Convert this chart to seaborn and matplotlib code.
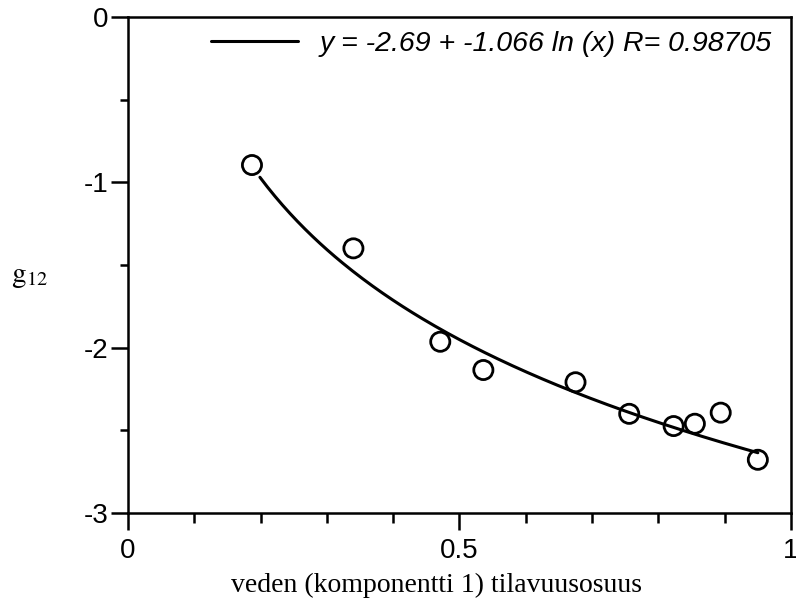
import numpy as np
import pandas as pd
import matplotlib
matplotlib.use("Agg")
import matplotlib.pyplot as plt
import seaborn as sns
from matplotlib.ticker import MultipleLocator, FormatStrFormatter

# measured points (volume fraction of water, g12)
x_vals = [0.187, 0.340, 0.471, 0.536, 0.675, 0.756, 0.823, 0.855, 0.894, 0.950]
g12_vals = [-0.895, -1.399, -1.964, -2.135, -2.209, -2.400, -2.474, -2.460, -2.393, -2.678]

# log fit given in the legend
fit_a = -2.69
fit_b = -1.066
fit_r = 0.98705
fit_range = [0.199, 0.950]

sns.set_theme(style="ticks")
plt.rcParams['font.family'] = ['Liberation Sans', 'DejaVu Sans']
plt.rcParams['mathtext.fontset'] = 'stix'

df = pd.DataFrame({'x': x_vals, 'g12': g12_vals})
xf = np.linspace(fit_range[0], fit_range[1], 200)
df_fit = pd.DataFrame({'x': xf, 'y': fit_a + fit_b * np.log(xf)})

fig = plt.figure(figsize=(7.96, 6.10), dpi=100)
ax = fig.add_axes([0.1608, 0.159, 0.8329, 0.813])

sns.lineplot(data=df_fit, x='x', y='y', ax=ax, color='black', linewidth=2.2,
             label=f"y = {fit_a} + {fit_b} ln (x) R= {fit_r}")
sns.scatterplot(data=df, x='x', y='g12', ax=ax, marker='o', s=190,
                facecolor='none', edgecolor='black', linewidth=2.0, zorder=3)

ax.set_xlim(0, 1)
ax.set_ylim(-3, 0)
ax.xaxis.set_major_locator(MultipleLocator(0.5))
ax.xaxis.set_minor_locator(MultipleLocator(0.1))
ax.yaxis.set_major_locator(MultipleLocator(1))
ax.yaxis.set_minor_locator(MultipleLocator(0.5))
ax.xaxis.set_major_formatter(FormatStrFormatter('%g'))
ax.yaxis.set_major_formatter(FormatStrFormatter('%g'))
ax.tick_params(which='major', length=12, width=1.8, labelsize=20, color='black', labelcolor='black')
ax.tick_params(axis='x', which='minor', length=7.5, width=1.8, color='black')
ax.tick_params(axis='y', which='minor', length=6, width=1.8, color='black')
ax.tick_params(axis='x', pad=6)
ax.tick_params(axis='y', pad=2)
for sp in ax.spines.values():
    sp.set_linewidth(1.8)
    sp.set_color('black')

ax.set_xlabel('veden (komponentti 1) tilavuusosuus', family='Liberation Serif',
              fontsize=20, color='black')
ax.xaxis.set_label_coords(0.466, -0.12)
ax.set_ylabel(r'$\mathrm{g}_{12}$', fontsize=21, rotation=0, va='center', color='black')
ax.yaxis.set_label_coords(-0.148, 0.478)

leg = ax.legend(loc='upper right', bbox_to_anchor=(0.988, 0.994), frameon=False,
                handlelength=3.05, handletextpad=0.74, borderaxespad=0.0,
                prop={'family': 'Liberation Sans', 'style': 'italic', 'size': 20.5})
for t in leg.get_texts():
    t.set_color('black')

fig.savefig('out.png', dpi=100)
